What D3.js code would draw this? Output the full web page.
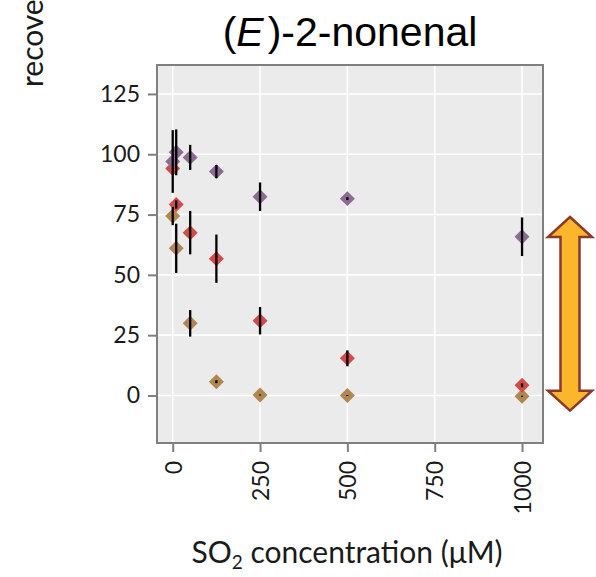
<!DOCTYPE html>
<html>
<head>
<meta charset="utf-8">
<script src="https://cdn.jsdelivr.net/npm/d3@7"></script>
<style>
  html, body { margin: 0; padding: 0; background: #fff; }
  svg { display: block; }
</style>
</head>
<body>
<svg id="chart" width="596" height="577"></svg>
<script>
// ---- data ----
const concentrations = [0, 10, 50, 125, 250, 500, 1000];
const seriesNames = ["purple", "red", "tan"];
const purpleMean = [97.0, 100.8, 98.7, 92.8, 82.4, 81.6, 65.8];
const purpleErr  = [13.0, 9.5, 5.2, 2.7, 5.9, 0.6, 8.0];
const redMean    = [94.1, 79.2, 67.5, 56.7, 31.0, 15.4, 4.2];
const redErr     = [0.0, 1.7, 9.0, 10.0, 5.7, 3.3, 0.8];
const tanMean    = [74.4, 61.0, 29.9, 5.7, 0.2, 0.0, -0.3];
const tanErr     = [3.8, 10.2, 5.5, 0.6, 0.2, 0.2, 0.2];
const seriesColors = ["#8C6B90", "#D24B4B", "#B08750"];
const xTicks = [0, 250, 500, 750, 1000];
const yTicks = [0, 25, 50, 75, 100, 125];
const titleMain = "-2-nonenal";
const xLabel = "concentration (μM)";
const yLabel = "recovery (%)";

const seriesData = [
  {name: seriesNames[0], mean: purpleMean, err: purpleErr, color: seriesColors[0]},
  {name: seriesNames[1], mean: redMean, err: redErr, color: seriesColors[1]},
  {name: seriesNames[2], mean: tanMean, err: tanErr, color: seriesColors[2]}
];
const drawOrder = [2, 1, 0];

// ---- layout ----
const svg = d3.select("#chart");
const panel = {left: 157, right: 543, top: 65, bottom: 443};

const x = d3.scaleLinear().domain([-45, 1060]).range([panel.left, panel.right]);
const y = d3.scaleLinear().domain([-19.7, 137]).range([panel.bottom, panel.top]);

svg.append("rect")
  .attr("x", panel.left).attr("y", panel.top)
  .attr("width", panel.right - panel.left).attr("height", panel.bottom - panel.top)
  .attr("fill", "#EBEBEB");

svg.append("g").selectAll("line").data(yTicks).join("line")
  .attr("x1", panel.left).attr("x2", panel.right)
  .attr("y1", d => y(d)).attr("y2", d => y(d))
  .attr("stroke", "#fff").attr("stroke-width", 1.6);
svg.append("g").selectAll("line").data(xTicks).join("line")
  .attr("y1", panel.top).attr("y2", panel.bottom)
  .attr("x1", d => x(d)).attr("x2", d => x(d))
  .attr("stroke", "#fff").attr("stroke-width", 1.6);

const sym = d3.symbol().type(d3.symbolSquare).size(112);
drawOrder.forEach(i => {
  const s = seriesData[i];
  svg.append("g").selectAll("path").data(concentrations.map((c, j) => ({c, m: s.mean[j]})))
    .join("path")
    .attr("d", sym)
    .attr("transform", d => `translate(${x(d.c)},${y(d.m)}) rotate(45)`)
    .attr("fill", s.color);
});

drawOrder.forEach(i => {
  const s = seriesData[i];
  svg.append("g").selectAll("line")
    .data(concentrations.map((c, j) => ({c, m: s.mean[j], e: s.err[j]})).filter(d => d.e > 0))
    .join("line")
    .attr("x1", d => x(d.c)).attr("x2", d => x(d.c))
    .attr("y1", d => y(d.m - d.e)).attr("y2", d => y(d.m + d.e))
    .attr("stroke", "#000").attr("stroke-width", 2.3);
});

svg.append("rect")
  .attr("x", panel.left).attr("y", panel.top)
  .attr("width", panel.right - panel.left).attr("height", panel.bottom - panel.top)
  .attr("fill", "none").attr("stroke", "#7F7F7F").attr("stroke-width", 2);

const tickFont = "Lato, 'Open Sans', sans-serif";
const yAxis = svg.append("g").attr("transform", `translate(${panel.left - 1},0)`)
  .call(d3.axisLeft(y).tickValues(yTicks).tickSize(8).tickPadding(8).tickFormat(d3.format("d")));
yAxis.select(".domain").remove();
yAxis.selectAll(".tick line").attr("stroke", "#7F7F7F").attr("stroke-width", 2);
yAxis.selectAll(".tick text").attr("font-family", tickFont).attr("font-size", 23).attr("fill", "#1a1a1a");

const xAxis = svg.append("g").attr("transform", `translate(0,${panel.bottom + 1})`)
  .call(d3.axisBottom(x).tickValues(xTicks).tickSize(8).tickFormat(d3.format("d")));
xAxis.select(".domain").remove();
xAxis.selectAll(".tick line").attr("stroke", "#7F7F7F").attr("stroke-width", 2);
xAxis.selectAll(".tick text")
  .attr("font-family", tickFont).attr("font-size", 23).attr("fill", "#1a1a1a")
  .attr("text-anchor", "end")
  .attr("transform", "translate(0,17) rotate(-90)")
  .attr("x", 0).attr("y", 0).attr("dy", "0.36em");

const title = svg.append("text")
  .attr("x", (panel.left + panel.right) / 2).attr("y", 46)
  .attr("text-anchor", "middle")
  .attr("font-family", "'Liberation Sans', Arial, sans-serif")
  .attr("font-size", 41).attr("fill", "#000");
title.append("tspan").text("(");
title.append("tspan").attr("font-style", "italic").text("E");
title.append("tspan").attr("dx", 4).text(")" + titleMain);

const xl = svg.append("text")
  .attr("x", (panel.left + panel.right) / 2 - 3).attr("y", 563)
  .attr("text-anchor", "middle")
  .attr("font-family", tickFont).attr("font-size", 30).attr("fill", "#1a1a1a");
xl.append("tspan").text("SO");
xl.append("tspan").attr("font-size", 19).attr("dy", 6).text("2");
xl.append("tspan").attr("dy", -6).text(" " + xLabel);

svg.append("text")
  .attr("transform", "translate(43,87) rotate(-90)")
  .attr("text-anchor", "start")
  .attr("font-family", tickFont).attr("font-size", 30).attr("fill", "#1a1a1a")
  .text(yLabel);

// annotation double arrow
const arrowX = 570, arrowTop = y(74), arrowBot = y(-6.3);
const headH = 20, headW = 22, shaftW = 9.5;
const arrowPath = [
  [arrowX, arrowTop], [arrowX + headW, arrowTop + headH], [arrowX + shaftW, arrowTop + headH],
  [arrowX + shaftW, arrowBot - headH], [arrowX + headW, arrowBot - headH], [arrowX, arrowBot],
  [arrowX - headW, arrowBot - headH], [arrowX - shaftW, arrowBot - headH],
  [arrowX - shaftW, arrowTop + headH], [arrowX - headW, arrowTop + headH]
];
svg.append("path")
  .attr("d", d3.line()(arrowPath) + "Z")
  .attr("fill", "#FBB62C").attr("stroke", "#8B3A2A").attr("stroke-width", 2.5)
  .attr("stroke-linejoin", "miter");
</script>
</body>
</html>
